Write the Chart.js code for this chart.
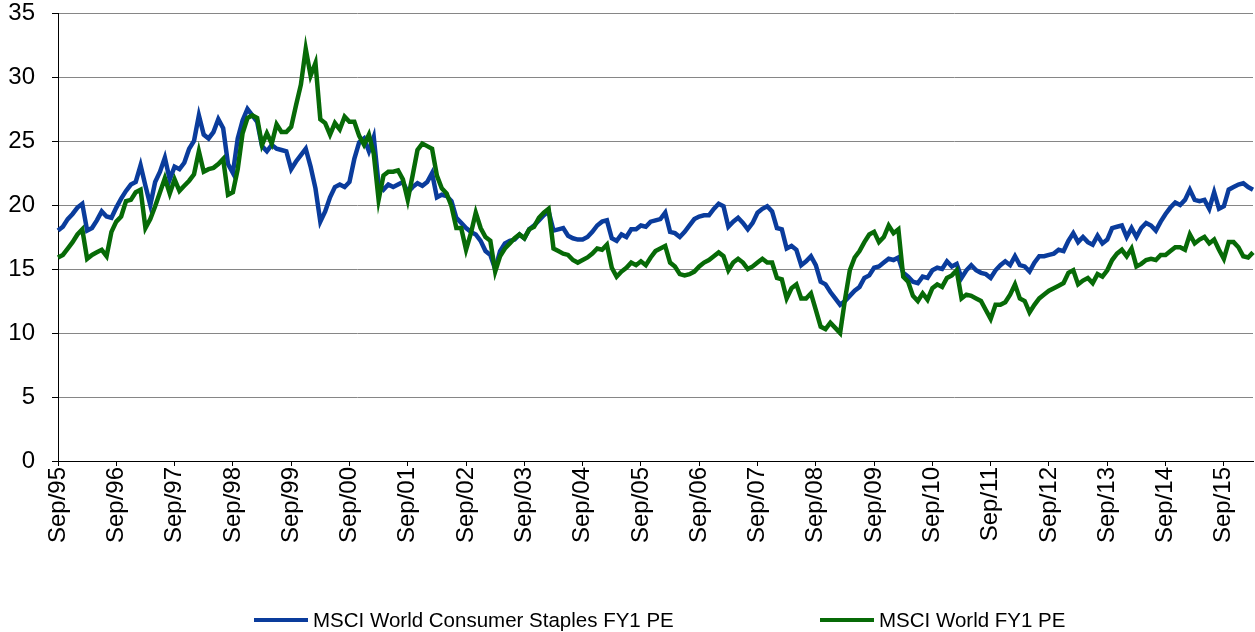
<!DOCTYPE html>
<html>
<head>
<meta charset="utf-8">
<script src="https://cdn.jsdelivr.net/npm/chart.js@4.4.1/dist/chart.umd.min.js"></script>
<style>
html, body { margin: 0; padding: 0; background: #fff; }
#wrap { position: relative; width: 1255px; height: 632px; }
#legend { position: absolute; left: 254px; top: 608px; display: flex; font-family: 'Liberation Sans', Arial, sans-serif; font-size: 20.5px; color: #000; line-height: 24px; }
#legend .item { display: flex; align-items: center; }
#legend .item:first-child { width: 566px; }
#legend .swatch { width: 54px; height: 4px; margin-right: 5px; }
</style>
</head>
<body>
<div id="wrap">
<canvas id="linechart" width="1255" height="632"></canvas>
<div id="legend"></div>
</div>
<script>
// monthly FY1 PE, Sep 1995 onwards
var consumerStaplesPE = [
  18.0, 18.3, 18.9, 19.3, 19.8, 20.1, 18.0, 18.2, 18.8, 19.5, 19.1, 19.0,
  19.8, 20.5, 21.1, 21.6, 21.8, 23.1, 21.5, 20.0, 21.8, 22.6, 23.7, 22.0,
  23.0, 22.8, 23.3, 24.4, 25.0, 27.0, 25.5, 25.2, 25.7, 26.7, 26.0, 23.2,
  22.5, 25.2, 26.6, 27.5, 27.0, 26.5, 24.6, 24.2, 24.7, 24.4, 24.3, 24.2,
  22.8, 23.4, 23.9, 24.4, 23.0, 21.3, 18.7, 19.5, 20.6, 21.4, 21.6, 21.4,
  21.8, 23.6, 24.9, 25.2, 24.2, 25.3, 21.6, 21.2, 21.6, 21.4, 21.6, 21.8,
  21.0, 21.4, 21.7, 21.5, 21.8, 22.5, 20.6, 20.8, 20.7, 20.3, 19.0, 18.6,
  18.2, 17.9, 17.7, 17.2, 16.4, 16.1, 15.0, 16.4, 17.0, 17.2, 17.3, 17.7,
  17.4, 18.1, 18.4, 18.8, 19.2, 19.5, 18.0, 18.1, 18.2, 17.6, 17.4, 17.3,
  17.3, 17.5, 17.9, 18.4, 18.7, 18.8, 17.4, 17.2, 17.7, 17.5, 18.1, 18.1,
  18.4, 18.3, 18.7, 18.8, 18.9, 19.4, 17.9, 17.8, 17.5, 17.9, 18.4, 18.9,
  19.1, 19.2, 19.2, 19.7, 20.1, 19.9, 18.3, 18.7, 19.0, 18.6, 18.1, 18.6,
  19.4, 19.7, 19.9, 19.5, 18.2, 18.1, 16.6, 16.8, 16.5, 15.3, 15.6, 16.0,
  15.3, 14.0, 13.8, 13.2, 12.7, 12.2, 12.5, 12.9, 13.3, 13.6, 14.3, 14.5,
  15.1, 15.2, 15.5, 15.8, 15.7, 15.9, 14.7, 14.4, 14.0, 13.9, 14.4, 14.3,
  14.9, 15.1, 15.0, 15.6, 15.2, 15.4, 14.3, 14.9, 15.3, 14.9, 14.7, 14.6,
  14.3, 14.9, 15.3, 15.6, 15.3, 16.0, 15.3, 15.2, 14.8, 15.5, 16.0, 16.0,
  16.1, 16.2, 16.5, 16.4, 17.2, 17.8, 17.1, 17.5, 17.1, 16.9, 17.6, 17.0,
  17.3, 18.2, 18.3, 18.4, 17.5, 18.2, 17.5, 18.2, 18.6, 18.4, 18.0, 18.7,
  19.3, 19.8, 20.2, 20.0, 20.4, 21.2, 20.4, 20.3, 20.4, 19.7, 21.0, 19.7,
  19.9, 21.2, 21.4, 21.6, 21.7, 21.4, 21.2
];
var worldPE = [
  15.9, 16.1, 16.6, 17.1, 17.7, 18.1, 15.8, 16.1, 16.3, 16.5, 16.0, 17.9,
  18.7, 19.1, 20.3, 20.4, 21.0, 21.2, 18.2, 18.9, 19.9, 21.0, 22.1, 20.9,
  22.0, 21.1, 21.5, 21.9, 22.4, 24.2, 22.6, 22.8, 22.9, 23.2, 23.6, 20.8,
  21.0, 22.8, 25.6, 26.8, 27.0, 26.8, 24.7, 25.6, 24.8, 26.3, 25.7, 25.7,
  26.1, 27.8, 29.4, 32.2, 30.1, 31.1, 26.7, 26.4, 25.5, 26.4, 25.9, 26.9,
  26.5, 26.5, 25.4, 24.7, 25.5, 24.0, 20.4, 22.3, 22.6, 22.6, 22.7, 22.0,
  20.4, 22.3, 24.3, 24.8, 24.6, 24.4, 22.3, 21.3, 20.9, 19.9, 18.2, 18.2,
  16.5, 17.8, 19.4, 18.2, 17.5, 17.2, 14.8, 16.0, 16.6, 17.0, 17.4, 17.7,
  17.4, 18.1, 18.3, 19.0, 19.4, 19.7, 16.6, 16.4, 16.2, 16.1, 15.7, 15.5,
  15.7, 15.9, 16.2, 16.6, 16.5, 16.9, 15.1, 14.4, 14.8, 15.1, 15.5, 15.3,
  15.6, 15.3, 15.9, 16.4, 16.6, 16.8, 15.5, 15.2, 14.6, 14.5, 14.6, 14.8,
  15.2, 15.5, 15.7, 16.0, 16.3, 16.0, 14.9, 15.5, 15.8, 15.5, 15.0, 15.2,
  15.5, 15.8, 15.5, 15.5, 14.3, 14.2, 12.7, 13.5, 13.8, 12.7, 12.7, 13.1,
  11.8, 10.5, 10.3, 10.8, 10.4, 10.0, 12.6, 14.9, 15.9, 16.4, 17.1, 17.7,
  17.9, 17.1, 17.5, 18.4, 17.8, 18.1, 14.4, 14.0, 12.9, 12.5, 13.1, 12.6,
  13.5, 13.8, 13.6, 14.3, 14.5, 14.9, 12.7, 13.0, 12.9, 12.7, 12.5, 11.8,
  11.1, 12.2, 12.2, 12.4, 13.0, 13.8, 12.7, 12.5, 11.6, 12.2, 12.7, 13.0,
  13.3, 13.5, 13.7, 13.9, 14.7, 14.9, 13.8, 14.1, 14.3, 13.9, 14.6, 14.4,
  14.9, 15.7, 16.2, 16.5, 16.0, 16.6, 15.2, 15.4, 15.7, 15.8, 15.7, 16.1,
  16.1, 16.4, 16.7, 16.7, 16.5, 17.7, 17.0, 17.3, 17.5, 17.0, 17.3, 16.5,
  15.8, 17.1, 17.1, 16.7, 16.0, 15.9, 16.3
];
var xTickLabels = ['Sep/95', 'Sep/96', 'Sep/97', 'Sep/98', 'Sep/99', 'Sep/00', 'Sep/01',
  'Sep/02', 'Sep/03', 'Sep/04', 'Sep/05', 'Sep/06', 'Sep/07', 'Sep/08', 'Sep/09',
  'Sep/10', 'Sep/11', 'Sep/12', 'Sep/13', 'Sep/14', 'Sep/15'];
var seriesNames = ['MSCI World Consumer Staples FY1 PE', 'MSCI World FY1 PE'];

var monthNames = ['Jan','Feb','Mar','Apr','May','Jun','Jul','Aug','Sep','Oct','Nov','Dec'];
var months = [];
for (var i = 0; i < consumerStaplesPE.length; i++) {
  var m = 8 + i;
  months.push(monthNames[m % 12] + '/' + String(1995 + Math.floor(m / 12)).slice(2));
}

var htmlLegend = {
  id: 'htmlLegend',
  afterUpdate: function(chart) {
    var box = document.getElementById('legend');
    box.innerHTML = '';
    chart.data.datasets.forEach(function(ds) {
      var item = document.createElement('div');
      item.className = 'item';
      var sw = document.createElement('span');
      sw.className = 'swatch';
      sw.style.background = ds.borderColor;
      var txt = document.createElement('span');
      txt.textContent = ds.label;
      item.appendChild(sw);
      item.appendChild(txt);
      box.appendChild(item);
    });
  }
};

Chart.defaults.font.family = "'Liberation Sans', Arial, sans-serif";
Chart.defaults.font.size = 24;
Chart.defaults.color = '#000';

var ctx = document.getElementById('linechart').getContext('2d');
var myChart = new Chart(ctx, {
  type: 'line',
  data: {
    labels: months,
    datasets: [{
      label: seriesNames[0],
      data: consumerStaplesPE,
      borderColor: '#0a3c9c',
      backgroundColor: '#0a3c9c',
      borderWidth: 4.5,
      pointRadius: 0,
      tension: 0,
      order: 1
    }, {
      label: seriesNames[1],
      data: worldPE,
      borderColor: '#076a07',
      backgroundColor: '#076a07',
      borderWidth: 4.5,
      pointRadius: 0,
      tension: 0,
      order: 0
    }]
  },
  options: {
    responsive: false,
    animation: false,
    devicePixelRatio: 1,
    layout: { padding: { top: 13, right: 2, left: 0, bottom: 0 } },
    plugins: { legend: { display: false }, tooltip: { enabled: false } },
    scales: {
      x: {
        offset: false,
        grid: {
          drawOnChartArea: false,
          drawTicks: true,
          tickLength: 5,
          tickColor: function(c) { return c.index % 12 === 0 ? '#000' : 'rgba(0,0,0,0)'; }
        },
        border: { color: '#000', width: 1 },
        ticks: {
          autoSkip: false,
          minRotation: 90,
          maxRotation: 90,
          padding: 1,
          callback: function(value, index) {
            return index % 12 === 0 ? xTickLabels[index / 12] : '';
          }
        },
        afterFit: function(s) { s.height = 171; s.paddingLeft = 0; s.paddingRight = 0; }
      },
      y: {
        min: 0,
        max: 35,
        grid: {
          color: function(c) { return c.tick && c.tick.value === 0 ? 'rgba(0,0,0,0)' : '#868686'; },
          tickLength: 6,
          tickColor: '#000'
        },
        border: { color: '#000', width: 1 },
        ticks: { stepSize: 5, padding: 17 },
        afterFit: function(s) { s.width = 58; s.paddingTop = 0; s.paddingBottom = 0; }
      }
    }
  },
  plugins: [htmlLegend]
});
</script>
</body>
</html>
